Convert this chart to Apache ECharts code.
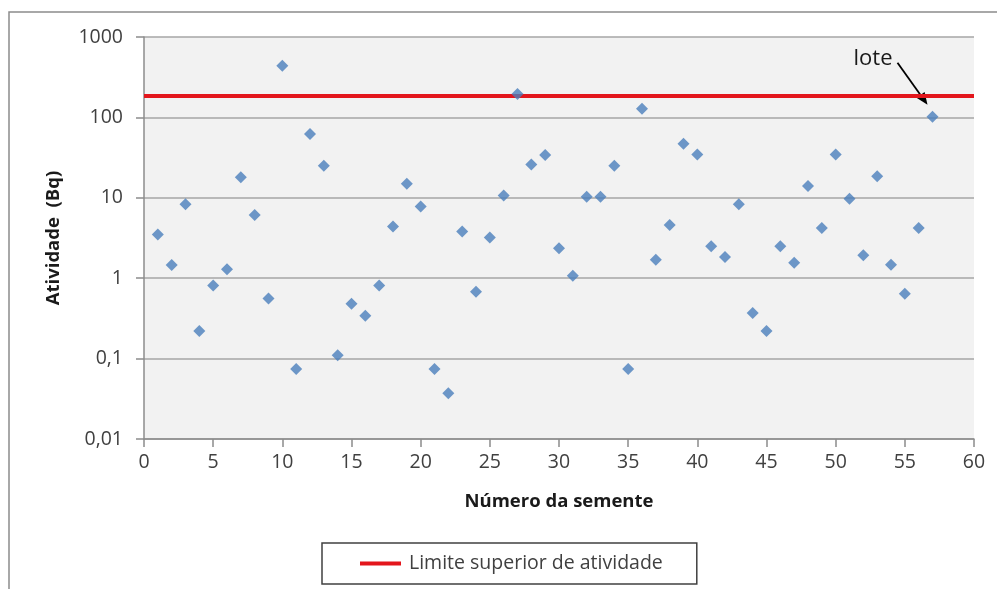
<!DOCTYPE html>
<html>
<head>
<meta charset="utf-8">
<script src="https://cdn.jsdelivr.net/npm/echarts@6/dist/echarts.min.js"></script>
<style>
  html, body { margin: 0; padding: 0; background: #fff; }
  #chart { width: 997px; height: 589px; }
</style>
</head>
<body>
<div id="chart"></div>
<script>
// Seed number (x) and measured activity in Bq (y, log scale)
const seedNumbers = [
  1, 2, 3, 4, 5, 6, 7, 8, 9, 10,
  11, 12, 13, 14, 15, 16, 17, 18, 19, 20,
  21, 22, 23, 24, 25, 26, 27, 28, 29, 30,
  31, 32, 33, 34, 35, 36, 37, 38, 39, 40,
  41, 42, 43, 44, 45, 46, 47, 48, 49, 50,
  51, 52, 53, 54, 55, 56, 57
];
const activityBq = [
  3.5, 1.46, 8.3, 0.22, 0.81, 1.29, 18, 6.1, 0.56, 440,
  0.074, 62, 25, 0.11, 0.48, 0.34, 0.81, 4.4, 15, 7.8,
  0.074, 0.037, 3.8, 0.68, 3.2, 10.7, 195, 26, 34, 2.35,
  1.07, 10.3, 10.3, 25, 0.074, 128, 1.7, 4.6, 47, 34.5,
  2.5, 1.83, 8.3, 0.37, 0.22, 2.5, 1.56, 14, 4.2, 34.5,
  9.7, 1.93, 18.5, 1.47, 0.64, 4.2, 102
];

// Upper activity limit (horizontal reference line)
const limitName = 'Limite superior de atividade';
const limitValue = 185;

// Axis tick labels
const yTickLabels = ['0,01', '0,1', '1', '10', '100', '1000'];
const xMin = 0, xMax = 60, xStep = 5;

// Highlighted seed (the batch)
const lotName = 'lote';
const lotIndex = 56;

const points = seedNumbers.map((s, i) => [s, activityBq[i]]);

const chart = echarts.init(document.getElementById('chart'), null, { renderer: 'canvas' });

const labelFont = { fontFamily: 'Open Sans', fontSize: 19.5, color: '#404040' };

const option = {
  animation: false,
  backgroundColor: '#ffffff',
  grid: {
    left: 144, right: 23, top: 37, bottom: 150,
    show: true, backgroundColor: '#f2f2f2', borderWidth: 0
  },
  xAxis: {
    type: 'value',
    min: xMin, max: xMax, interval: xStep,
    name: 'Número da semente',
    nameLocation: 'middle',
    nameGap: 53,
    nameTextStyle: { fontFamily: 'Open Sans', fontWeight: 'bold', fontSize: 18.5, color: '#1a1a1a' },
    axisLine: { show: true, onZero: false, lineStyle: { color: '#8c8c8c', width: 1.5 } },
    axisTick: { show: true, inside: false, length: 8, lineStyle: { color: '#8c8c8c', width: 1.5 } },
    axisLabel: Object.assign({ margin: 13 }, labelFont),
    splitLine: { show: false }
  },
  yAxis: {
    type: 'log',
    logBase: 10,
    min: 0.01, max: 1000,
    name: 'Atividade  (Bq)',
    nameLocation: 'middle',
    nameRotate: 90,
    nameGap: 81,
    nameTextStyle: { fontFamily: 'Open Sans', fontWeight: 'bold', fontSize: 18.5, color: '#1a1a1a' },
    axisLine: { show: true, lineStyle: { color: '#8c8c8c', width: 1.5 } },
    axisTick: { show: true, inside: false, length: 8, lineStyle: { color: '#8c8c8c', width: 1.5 } },
    axisLabel: Object.assign({
      margin: 21,
      formatter: v => yTickLabels[Math.round(Math.log10(v)) + 2]
    }, labelFont),
    splitLine: { show: true, lineStyle: { color: '#a6a6a6', width: 1.5 } }
  },
  legend: {
    left: 322, top: 543,
    data: [limitName],
    icon: 'rect',
    itemWidth: 41, itemHeight: 4,
    padding: [10, 34, 10, 38],
    borderColor: '#404040', borderWidth: 1.5,
    backgroundColor: '#ffffff',
    textStyle: { fontFamily: 'Open Sans', fontSize: 19.5, color: '#404040', lineHeight: 21, padding: [0, 0, 0, 3] }
  },
  series: [
    {
      name: 'Atividade',
      type: 'scatter',
      data: points,
      symbol: 'diamond',
      symbolSize: 12,
      itemStyle: { color: '#4a7ebb' },
      z: 3
    },
    {
      name: limitName,
      type: 'line',
      data: [[xMin, limitValue], [xMax, limitValue]],
      showSymbol: false,
      symbol: 'none',
      lineStyle: { color: '#e3161c', width: 4 },
      itemStyle: { color: '#e3161c' },
      z: 2
    }
  ]
};

chart.setOption(option);

// Outer chart frame plus the "lote" callout with its arrow, anchored to the batch point
const tip = chart.convertToPixel({ gridIndex: 0 }, points[lotIndex]);
const tx = tip[0] - 5, ty = tip[1] - 12;
const sx = tx - 30, sy = ty - 42;
const ang = Math.atan2(ty - sy, tx - sx);
const ah = 12, aw = 5;
const bx = tx - ah * Math.cos(ang), by = ty - ah * Math.sin(ang);
const px = -Math.sin(ang) * aw, py = Math.cos(ang) * aw;

chart.setOption({
  graphic: [
    {
      type: 'rect', silent: true, z: -1,
      shape: { x: 9, y: 12, width: 1000, height: 600 },
      style: { fill: 'none', stroke: '#8c8c8c', lineWidth: 1.5 }
    },
    {
      type: 'text', silent: true,
      x: sx - 5, y: sy - 4,
      style: {
        text: lotName, fontFamily: 'Open Sans', fontSize: 22, fill: '#1a1a1a',
        textAlign: 'right', textVerticalAlign: 'middle'
      }
    },
    {
      type: 'line', silent: true,
      shape: { x1: sx, y1: sy, x2: bx, y2: by },
      style: { stroke: '#000', lineWidth: 1.8 }
    },
    {
      type: 'polygon', silent: true,
      shape: { points: [[tx, ty], [bx + px, by + py], [bx - px, by - py]] },
      style: { fill: '#000' }
    }
  ]
});
</script>
</body>
</html>
